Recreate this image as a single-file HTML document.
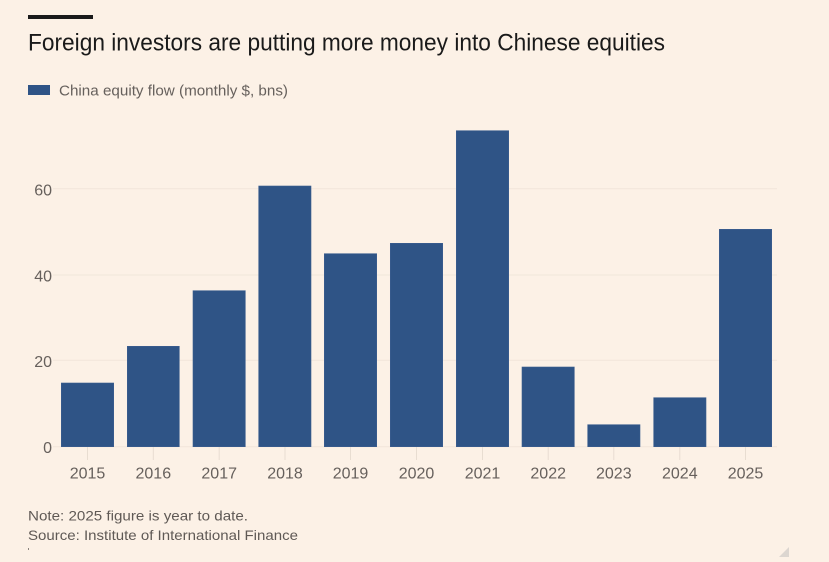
<!DOCTYPE html>
<html>
<head>
<meta charset="utf-8">
<style>
  html, body { margin: 0; padding: 0; background: #fcf1e6; }
  svg { display: block; }
  text { font-family: "Liberation Sans", "DejaVu Sans", sans-serif; }
</style>
</head>
<body>
<svg width="829" height="562" viewBox="0 0 829 562" xmlns="http://www.w3.org/2000/svg">
  <rect x="0" y="0" width="829" height="562" fill="#fcf1e6"/>
  <!-- top black rule -->
  <rect x="28" y="15" width="65" height="4" fill="#1a1a1a"/>
  <!-- title -->
  <text x="28" y="50.5" font-size="24" fill="#1a1a1a" textLength="637" lengthAdjust="spacingAndGlyphs">Foreign investors are putting more money into Chinese equities</text>
  <!-- legend -->
  <rect x="28" y="85" width="22" height="10" fill="#2f5486"/>
  <text x="59" y="95.5" font-size="15" fill="#66605c" textLength="229" lengthAdjust="spacingAndGlyphs">China equity flow (monthly $, bns)</text>

  <!-- gridlines -->
  <g stroke="#f1e6da" stroke-width="1">
    <line x1="53" y1="188.7" x2="777" y2="188.7"/>
    <line x1="53" y1="275" x2="777" y2="275"/>
    <line x1="53" y1="360.3" x2="777" y2="360.3"/>
    <line x1="53" y1="446.7" x2="777" y2="446.7"/>
  </g>
  <!-- y labels -->
  <g font-size="16" fill="#66605c" text-anchor="end">
    <text x="52" y="195.3">60</text>
    <text x="52" y="281.3">40</text>
    <text x="52" y="366.8">20</text>
    <text x="52" y="453">0</text>
  </g>

  <!-- x tick marks -->
  <g stroke="#e8ddd1" stroke-width="1">
    <line x1="87.5" y1="447" x2="87.5" y2="460"/>
    <line x1="153.3" y1="447" x2="153.3" y2="460"/>
    <line x1="219.2" y1="447" x2="219.2" y2="460"/>
    <line x1="285" y1="447" x2="285" y2="460"/>
    <line x1="350.5" y1="447" x2="350.5" y2="460"/>
    <line x1="416.5" y1="447" x2="416.5" y2="460"/>
    <line x1="482.5" y1="447" x2="482.5" y2="460"/>
    <line x1="548.2" y1="447" x2="548.2" y2="460"/>
    <line x1="613.8" y1="447" x2="613.8" y2="460"/>
    <line x1="679.8" y1="447" x2="679.8" y2="460"/>
    <line x1="745.5" y1="447" x2="745.5" y2="460"/>
  </g>

  <!-- bars -->
  <g fill="#2f5486" stroke="#3d5f8f" stroke-width="0.6">
    <rect x="61.3" y="383" width="52.4" height="63.7"/>
    <rect x="127.3" y="346.3" width="52" height="100.4"/>
    <rect x="193" y="290.7" width="52.3" height="156"/>
    <rect x="258.7" y="186" width="52.3" height="260.7"/>
    <rect x="324.3" y="253.7" width="52.4" height="193"/>
    <rect x="390.3" y="243.3" width="52.4" height="203.4"/>
    <rect x="456.3" y="130.7" width="52.4" height="316"/>
    <rect x="522" y="367" width="52.3" height="79.7"/>
    <rect x="587.7" y="424.7" width="52.3" height="22"/>
    <rect x="653.7" y="397.7" width="52.3" height="49"/>
    <rect x="719.3" y="229.3" width="52.4" height="217.4"/>
  </g>

  <!-- x labels -->
  <g font-size="16" fill="#66605c" text-anchor="middle">
    <text x="87.5" y="478.7">2015</text>
    <text x="153.3" y="478.7">2016</text>
    <text x="219.2" y="478.7">2017</text>
    <text x="285" y="478.7">2018</text>
    <text x="350.5" y="478.7">2019</text>
    <text x="416.5" y="478.7">2020</text>
    <text x="482.5" y="478.7">2021</text>
    <text x="548.2" y="478.7">2022</text>
    <text x="613.8" y="478.7">2023</text>
    <text x="679.8" y="478.7">2024</text>
    <text x="745.5" y="478.7">2025</text>
  </g>

  <!-- notes -->
  <text x="28" y="520.5" font-size="14" fill="#5f5955" textLength="220" lengthAdjust="spacingAndGlyphs">Note: 2025 figure is year to date.</text>
  <text x="28" y="540" font-size="14" fill="#5f5955" textLength="270" lengthAdjust="spacingAndGlyphs">Source: Institute of International Finance</text>
  <rect x="28" y="548" width="1" height="2" fill="#8a837d"/>

  <!-- resize triangle -->
  <polygon points="789,547 789,557 779,557" fill="#dcd6d0"/>
</svg>
</body>
</html>
